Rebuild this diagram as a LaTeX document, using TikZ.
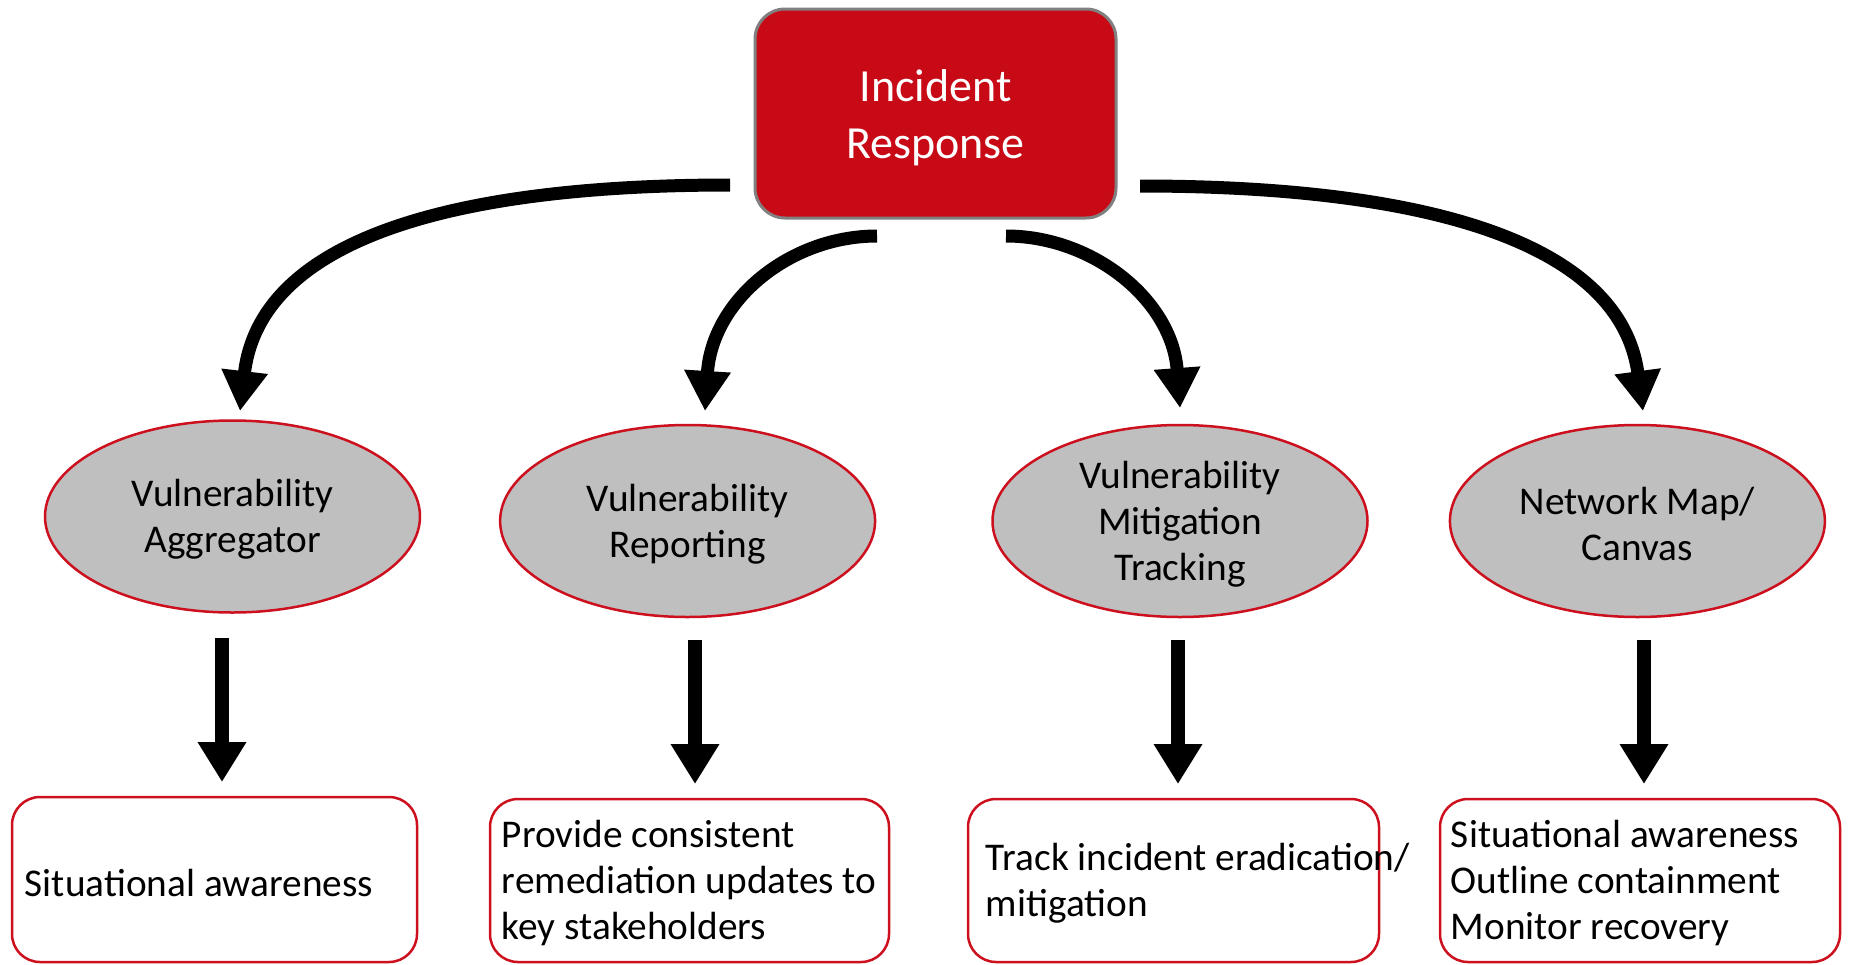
\documentclass[tikz,border=0pt]{standalone}
\usepackage{fontspec}
\setmainfont{Carlito}
\usetikzlibrary{arrows.meta,shapes.geometric}
\definecolor{irred}{RGB}{200,10,22}
\definecolor{edgered}{RGB}{204,16,30}
\definecolor{ellgray}{RGB}{191,191,191}
\definecolor{irborder}{RGB}{128,128,128}
\tikzset{
  topbox/.style={draw=irborder,line width=3pt,fill=irred,rounded corners=30pt,
    minimum width=361pt,minimum height=209pt,inner sep=0pt,text=white,align=center,
    font=\fontsize{46}{57}\selectfont},
  ellnode/.style={ellipse,draw=edgered,line width=2.5pt,fill=ellgray,
    minimum width=375pt,minimum height=192pt,inner sep=0pt,align=center,
    font=\fontsize{39.3}{46}\selectfont},
  outbox/.style={draw=edgered,line width=2.5pt,rounded corners=28pt,inner sep=0pt},
  outtext/.style={anchor=west,inner sep=0pt,align=left,font=\fontsize{39.3}{46}\selectfont},
  bigarrow/.style={line width=13pt,-{Triangle[length=40pt,width=44pt]}},
  downarrow/.style={line width=14pt,-{Triangle[length=40pt,width=46pt]}}
}
\begin{document}
\begin{tikzpicture}[x=1pt,y=-1pt]
\useasboundingbox (0,0) rectangle (1851,964);
% top node
\node[topbox] (ir) at (935.5,113.5) {};
\node[text=white,align=center,inner sep=0pt,font=\fontsize{46}{57}\selectfont] (irt) at ([yshift=-4pt]ir.center) {Incident\\Response};
% ellipses
\node[ellnode] (e1) at (232.5,516.5) {};
\node[ellnode] (e2) at (687.6,521) {};
\node[ellnode] (e3) at (1180,521) {};
\node[ellnode] (e4) at (1637.4,521) {};
\tikzset{elltext/.style={align=center,inner sep=0pt,font=\fontsize{39.3}{46}\selectfont}}
\node[elltext] (e1t) at ([yshift=-3pt]e1.center) {Vulnerability\\Aggregator};
\node[elltext] (e2t) at ([yshift=-3pt]e2.center) {Vulnerability\\Reporting};
\node[elltext] (e3t) at ([yshift=-3pt]e3.center) {Vulnerability\\Mitigation\\Tracking};
\node[elltext] (e4t) at ([yshift=-3pt]e4.center) {Network Map/\\Canvas};
% bottom boxes
\node[outbox,minimum width=405pt,minimum height=165pt] (b1) at (214.5,879.5) {};
\node[outbox,minimum width=399pt,minimum height=163pt] (b2) at (689.5,880.5) {};
\node[outbox,minimum width=411pt,minimum height=163pt] (b3) at (1173.5,880.5) {};
\node[outbox,minimum width=400pt,minimum height=163pt] (b4) at (1640,880.5) {};
\node[outtext] (t1) at ([xshift=14pt,yshift=-3pt]b1.west) {Situational awareness};
\node[outtext] (t2) at ([xshift=13pt,yshift=-3pt]b2.west) {Provide consistent\\remediation updates to\\key stakeholders};
\node[outtext] (t3) at ([xshift=19pt,yshift=-3pt]b3.west) {Track incident eradication/\\mitigation};
\node[outtext] (t4) at ([xshift=12pt,yshift=-3pt]b4.west) {Situational awareness\\Outline containment\\Monitor recovery};
% curved arrow ends
\coordinate (c1s) at (730,185);
\coordinate (c1e) at (240,411);
\coordinate (c2s) at (877,236);
\coordinate (c2e) at (705,411);
\coordinate (c3s) at (1006,236);
\coordinate (c3e) at (1180,408);
\coordinate (c4s) at (1140,186);
\coordinate (c4e) at (1643,411);
\draw[bigarrow] (c1s) .. controls (450,185) and (260,240) .. (c1e);
\draw[bigarrow] (c2s) .. controls (790,236) and (712,300) .. (c2e);
\draw[bigarrow] (c3s) .. controls (1093,236) and (1172,300) .. (c3e);
\draw[bigarrow] (c4s) .. controls (1420,186) and (1620,240) .. (c4e);
% straight arrows
\coordinate (a1s) at (222,638);  \coordinate (a1e) at (222,782);
\coordinate (a2s) at (695,640);  \coordinate (a2e) at (695,784);
\coordinate (a3s) at (1178,640); \coordinate (a3e) at (1178,784);
\coordinate (a4s) at (1644,640); \coordinate (a4e) at (1644,784);
\draw[downarrow] (a1s) -- (a1e);
\draw[downarrow] (a2s) -- (a2e);
\draw[downarrow] (a3s) -- (a3e);
\draw[downarrow] (a4s) -- (a4e);
\end{tikzpicture}
\end{document}
